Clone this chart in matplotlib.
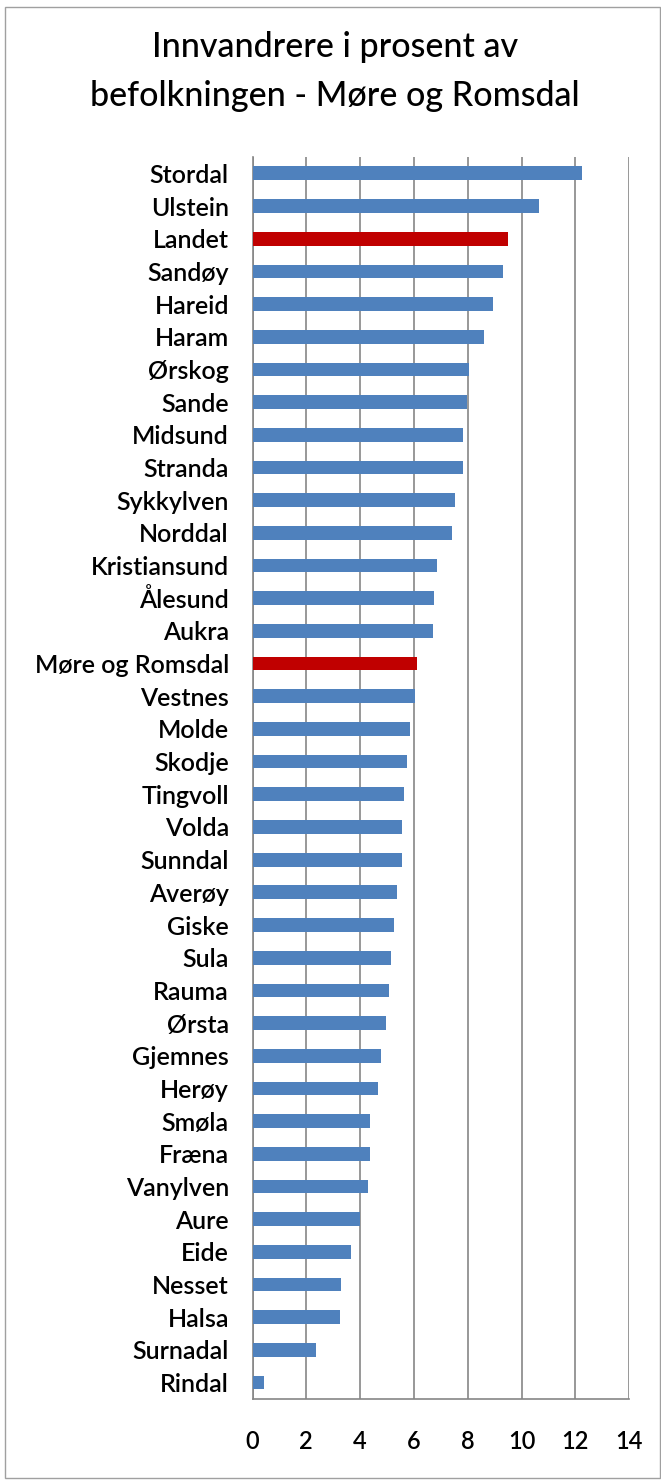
import matplotlib.pyplot as plt
from matplotlib.patches import Rectangle

plt.rcParams['font.family'] = ['Lato', 'DejaVu Sans']

kommuner = ['Stordal', 'Ulstein', 'Landet', 'Sandøy', 'Hareid', 'Haram', 'Ørskog',
            'Sande', 'Midsund', 'Stranda', 'Sykkylven', 'Norddal', 'Kristiansund',
            'Ålesund', 'Aukra', 'Møre og Romsdal', 'Vestnes', 'Molde', 'Skodje',
            'Tingvoll', 'Volda', 'Sunndal', 'Averøy', 'Giske', 'Sula', 'Rauma',
            'Ørsta', 'Gjemnes', 'Herøy', 'Smøla', 'Fræna', 'Vanylven', 'Aure',
            'Eide', 'Nesset', 'Halsa', 'Surnadal', 'Rindal']
prosent = [12.24, 10.63, 9.50, 9.32, 8.92, 8.61, 8.06,
           7.97, 7.83, 7.83, 7.53, 7.42, 6.87,
           6.76, 6.70, 6.10, 6.03, 5.86, 5.74,
           5.63, 5.57, 5.57, 5.38, 5.27, 5.15, 5.09,
           4.96, 4.79, 4.67, 4.38, 4.38, 4.31, 4.00,
           3.66, 3.30, 3.24, 2.36, 0.44]
uthevet = ['Landet', 'Møre og Romsdal']
xticks = [0, 2, 4, 6, 8, 10, 12, 14]

fig = plt.figure(figsize=(6.61, 14.81), dpi=100)
ax = fig.add_axes([0.382, 0.0554, 0.570, 0.8386])

# chart border
fig.patches.append(Rectangle((5 / 661, 1 - 1478 / 1481), 655 / 661, 1471 / 1481,
                             transform=fig.transFigure, fill=False,
                             edgecolor='#a0a0a0', linewidth=1))

farger = ['#C00000' if k in uthevet else '#4F81BD' for k in kommuner]
ypos = list(range(len(kommuner)))
ax.barh(ypos, prosent, height=0.42, color=farger, zorder=3)

ax.set_ylim(len(kommuner) - 0.5, -0.5)
ax.set_xlim(0, 14)
ax.set_yticks(ypos)
ax.set_yticklabels(kommuner, fontsize=18, fontweight='semibold')
ax.set_xticks(xticks)
ax.set_xticklabels([str(t) for t in xticks], fontsize=17, fontweight='semibold')
ax.tick_params(axis='y', length=0, pad=17)
ax.tick_params(axis='x', length=0, pad=22)

ax.grid(axis='x', color='#868686', linewidth=1.2, zorder=0)
for s in ['top', 'right']:
    ax.spines[s].set_visible(False)
for s in ['left', 'bottom']:
    ax.spines[s].set_color('#868686')
    ax.spines[s].set_linewidth(1.2)

fig.text(0.507, 0.968, 'Innvandrere i prosent av', ha='center', va='center',
         fontsize=24.5, fontweight='medium')
fig.text(0.507, 0.935, 'befolkningen - Møre og Romsdal', ha='center', va='center',
         fontsize=24.5, fontweight='medium')

fig.savefig('out.png', dpi=100)
